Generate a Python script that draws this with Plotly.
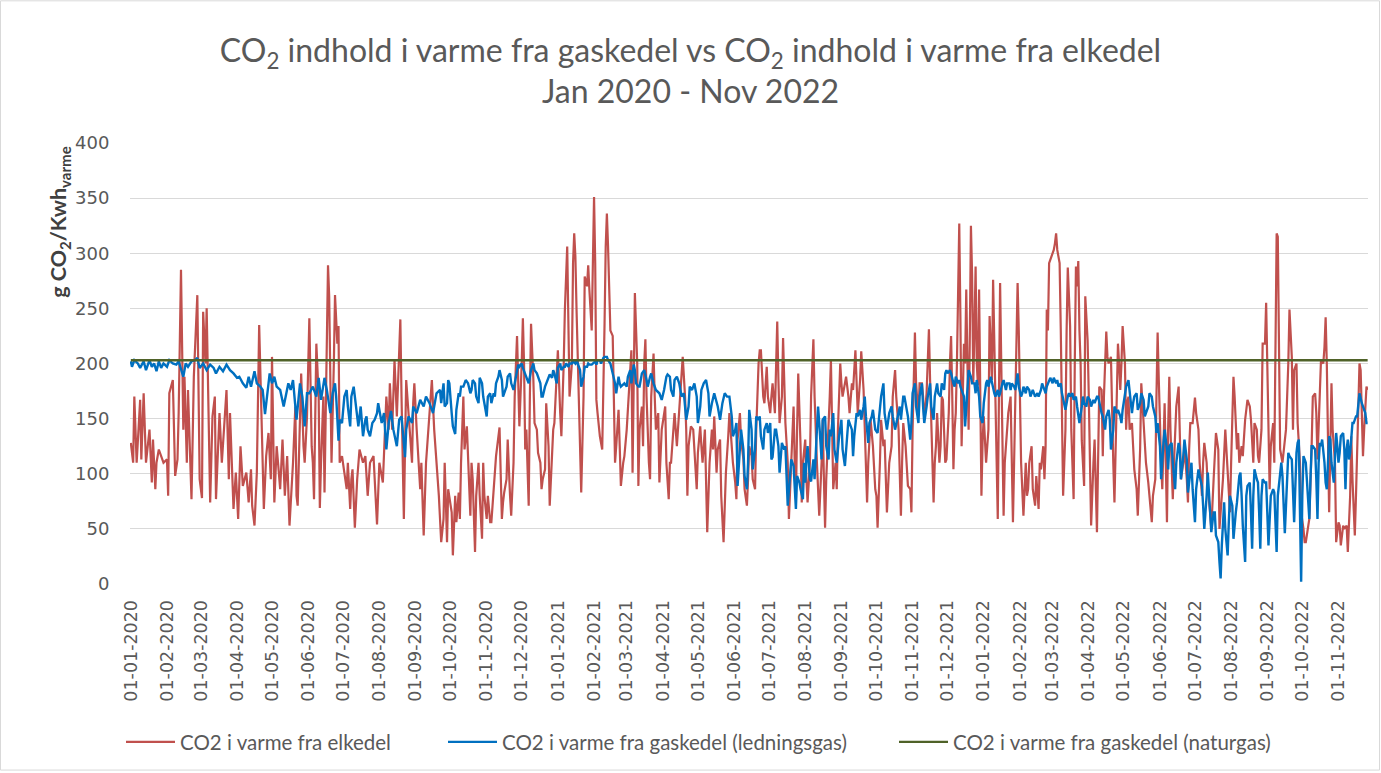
import pandas as pd
import plotly.graph_objects as go

START = pd.Timestamp("2020-01-01")

# (day offset from 01-01-2020, g CO2/kWh)
red_points = [
(0,128),(2,110),(3,170),(5,110),(8,167),(9,113),(11,173),(13,110),(16,140),(18,92),(19,131),(21,86),(22,110),(24,122),(28,110),(31,113),(32,80),(33,173),(36,185),(38,98),(40,113),(41,155),(43,285),(45,140),(46,188),(48,110),(49,176),(51,110),(52,77),(54,188),(57,262),(59,95),(61,78),(62,247),(64,200),(65,250),(67,140),(68,74),(70,152),(72,170),(73,77),(76,155),(78,110),(80,146),(82,176),(84,95),(85,155),(88,68),(90,101),(92,59),(94,125),(96,89),(99,101),(101,74),(103,104),(104,71),(106,53),(108,101),(110,235),(112,152),(114,68),(116,116),(118,137),(120,95),(121,206),(123,74),(125,125),
(128,86),(130,131),(132,80),(134,116),(136,53),(139,110),(141,161),(142,80),(143,71),(145,140),(146,191),(148,125),(149,110),(151,152),(153,241),(155,125),(156,110),(157,77),(159,218),(161,170),(162,69),(163,110),(165,170),(166,83),(168,200),(169,289),(170,261),(171,197),(172,110),(174,200),(175,262),(177,218),(178,234),(179,110),(181,116),(183,101),(185,86),(186,110),(188,68),(189,95),(190,104),(192,51),(194,95),(196,122),(199,110),(201,116),(202,92),(203,80),(205,110),(208,116),(211,54),(212,95),(213,110),(216,92),(219,170),(221,140),(222,182),(224,140),(226,203),(228,152),(231,240),(232,170),(234,59),(236,185),(239,140),(241,110),(242,164),(243,182),(245,140),(248,86),(249,110),(251,44),(253,110),(256,155),(258,185),(260,140),(262,110),(264,80),(266,38),
(268,59),(269,110),(271,38),(272,86),(273,80),(275,65),(276,26),(278,80),(279,56),(281,83),(282,59),(283,110),(285,170),(286,122),(288,143),(289,110),(291,62),(292,110),(293,95),(295,29),(296,80),(298,110),(299,80),(301,41),(302,110),(303,80),(305,59),(306,80),(308,56),(309,56),(311,89),(312,104),(313,116),(316,142),(317,110),(318,59),(319,74),(320,83),(322,95),(323,131),(325,80),(326,62),(328,110),(329,170),(331,225),(332,185),(333,143),(335,200),(336,241),(337,200),(338,122),(339,140),(341,71),(342,170),(343,236),(345,185),(346,146),(348,140),(349,119),(351,110),(352,86),(353,95),(355,104),(356,164),(358,125),(359,71),(361,110),(362,140),(363,146),(365,200),(366,212),(368,155),(369,134),(371,200),(372,249),(374,306),(375,230),(376,170),(378,200),(379,291),(380,318),(381,297),(382,249),(383,200),(384,155),(386,83),(388,170),(389,279),(391,270),(392,289),(393,267),(395,230),(396,291),(397,351),(398,291),(399,167),(400,155),
(402,134),(404,122),(405,170),(406,236),(407,306),(408,336),(409,306),(410,276),(411,230),(413,225),(414,170),(415,110),(416,125),(418,158),(419,125),(420,89),(422,110),(423,116),(425,140),(426,158),(428,200),(429,212),(430,101),(431,200),(432,264),(434,200),(435,89),(436,140),(438,161),(439,125),(440,200),(441,222),(442,170),(444,110),(445,95),(446,170),(448,209),(449,170),(450,140),(452,155),(453,92),(455,140),(456,146),(458,161),(459,110),(461,77),(462,110),(463,110),(465,140),(466,155),(468,125),(469,140),(470,161),(472,182),(473,206),(475,170),(476,140),(477,80),(478,125),(480,143),(482,140),(483,122),(485,86),(486,119),(488,143),(489,125),(490,110),(492,140),(493,95),(494,47),(496,110),(498,140),(499,122),(500,152),(502,101),(503,122),(505,131),(506,80),(508,38),(509,80),(510,101),(512,134),(513,155),(515,125),(516,110),(518,92),(519,77),(520,131),(522,155),(523,131),(525,113),(526,86),(528,71),(529,95),(530,125),(532,116),(533,95),(535,86),(536,140),(538,200),(539,212),(540,212),(542,170),(543,164),
(545,197),(546,170),(548,155),(549,170),(550,182),(552,155),(553,200),(554,238),(555,186),(556,146),(558,170),(559,223),(560,185),(561,146),(563,110),(564,59),(566,110),(568,161),(569,110),(570,77),(571,140),(572,191),(574,125),(575,74),(576,110),(578,131),(579,95),(580,74),(582,110),(583,170),(585,222),(586,170),(588,110),(589,80),(590,62),(592,110),(593,149),(594,95),(595,51),(596,95),(598,140),(599,170),(600,203),(601,140),(602,86),(604,110),(605,86),(606,140),(608,200),(609,182),(610,170),(612,182),(613,188),(615,170),(616,155),(618,182),(619,176),(621,212),(622,185),(623,155),(625,185),(626,211),(628,176),(629,140),(631,74),(632,110),(634,149),(636,125),(638,86),(639,80),(640,51),(642,110),(643,149),(645,125),(646,131),(648,65),(650,110),(652,125),(653,170),(655,194),(656,170),(658,140),(660,62),(661,110),(662,146),(664,125),(666,89),(668,86),(669,65),(670,140),(672,228),(673,182),(675,152),(676,182),(678,182),(679,170),(680,149),
(682,173),(683,200),(684,231),(685,185),(686,140),(687,110),(688,74),(689,110),(690,125),(691,155),(693,110),(694,125),(695,170),(696,167),(697,140),(698,110),(699,113),(701,155),(702,200),(703,225),(704,170),(705,104),(706,140),(707,155),(708,200),(709,261),(710,327),(711,240),(712,125),(713,170),(714,218),(715,200),(716,267),(717,200),(718,140),(719,220),(720,325),(721,280),(722,182),(723,230),(724,288),(725,200),(726,180),(727,267),(728,180),(729,80),(730,130),(731,152),(733,110),(735,140),(736,243),(738,185),(739,276),(741,170),(743,59),(744,170),(745,273),(746,200),(747,140),(748,62),(749,110),(751,140),(752,155),(754,170),(755,110),(756,56),(757,110),(758,170),(759,215),(760,273),(761,230),(762,176),(763,110),(765,62),(766,86),(767,110),(768,80),(769,86),(770,110),(772,125),(773,86),(775,71),(776,98),(777,80),(778,68),(779,110),(780,104),(782,125),(783,95),(784,125),(785,249),(786,230),(787,291),(788,294),(789,297),(791,303),(792,309),(793,318),(794,303),(796,291),(797,230),(798,158),(799,80),(800,110),(801,140),(802,230),(803,287),(804,261),(805,234),(806,140),(807,110),(808,77),(809,200),(810,288),(811,270),(812,293),
(813,230),(814,200),(815,130),(817,89),(818,261),(820,221),(821,170),(822,110),(823,53),(825,110),(826,131),(828,47),(829,110),(830,179),(832,176),(833,116),(834,170),(835,200),(836,229),(837,206),(838,200),(840,206),(841,146),(842,110),(843,74),(845,170),(846,218),(847,200),(848,176),(849,200),(850,234),(852,200),(853,140),(854,164),(855,170),(856,140),(858,146),(859,125),(860,104),(862,86),(863,62),(865,122),(866,182),(868,146),(869,128),(870,110),(872,92),(873,80),(875,56),(876,80),(878,95),(879,170),(880,228),(881,185),(882,140),(883,110),(884,86),(885,125),(886,164),(887,110),(888,56),(889,140),(890,188),(891,140),(893,77),(894,110),(895,143),(896,161),(898,179),(899,140),(900,95),(902,110),(903,125),(905,95),(906,74),(907,122),(908,146),(910,146),(911,161),(912,169),(913,155),(915,140),(916,110),(918,80),(919,110),(920,128),(922,110),(923,86),(925,65),(926,50),(928,95),(929,116),(930,137),(932,122),(933,50),(935,80),(936,95),(938,140),(939,122),(940,95),(942,65),(943,110),(945,188),(946,170),(948,122),(949,137),(950,110),
(952,125),(953,116),(955,149),(956,158),(957,167),(959,161),(960,149),(962,110),(963,146),(965,140),(966,116),(967,110),(969,140),(970,218),(972,218),(973,255),(974,200),(975,140),(976,86),(977,125),(979,146),(980,110),(981,261),(982,318),(983,315),(984,230),(985,122),(987,110),(988,122),(990,140),(991,170),(992,200),(993,249),(995,206),(996,140),(997,194),(999,200),(1000,146),(1002,110),(1003,65),(1005,50),(1006,38),(1007,38),(1009,50),(1010,59),(1012,125),(1013,170),(1015,173),(1016,155),(1017,113),(1019,170),(1020,203),(1022,200),(1023,215),(1024,242),(1025,200),(1027,65),(1028,125),(1029,182),(1030,140),(1032,110),(1033,38),(1035,56),(1036,53),(1037,35),(1039,53),(1040,50),(1042,53),(1043,29),(1045,80),(1046,134),(1047,95),(1049,44),(1050,80),(1052,170),(1053,200),(1054,194),(1055,155),(1056,116),(1057,140),(1059,179),(1060,176),
]

blue_points = [
(0,202),(1,197),(3,203),(6,200),(8,196),(11,202),(13,194),(16,203),(18,197),(20,200),(22,193),(24,202),(26,196),(28,200),(31,197),(33,203),(36,200),(39,199),(41,202),(45,188),(47,200),(49,197),(52,202),(55,203),(57,205),(59,196),(62,200),(65,194),(68,199),(71,196),(73,191),(76,197),(79,193),(82,199),(85,194),(88,191),(91,187),(93,188),(96,182),(99,178),(101,188),(103,179),(106,193),(108,182),(111,179),(113,176),(115,154),(117,176),(119,191),(121,182),(123,188),(125,179),
(128,176),(131,161),(133,173),(135,182),(137,176),(139,185),(142,149),(144,173),(145,182),(147,170),(149,143),(151,173),(153,173),(156,179),(159,170),(161,187),(163,167),(166,187),(168,176),(171,155),(173,173),(175,182),(176,170),(178,130),(179,149),(181,146),(183,170),(185,176),(186,161),(188,143),(189,170),(191,179),(193,161),(195,143),(197,161),(199,134),(201,149),(202,152),(203,140),(205,134),(207,146),(209,149),(211,155),(212,164),(215,146),(217,155),(219,122),(221,146),(223,157),(225,140),(228,125),(230,149),(232,152),(235,115),(236,140),(238,152),(241,146),(242,161),(245,155),(248,167),(251,161),(253,170),(256,164),(259,155),(262,173),
(265,176),(266,164),(268,182),(269,161),(271,164),(272,185),(273,182),(275,155),(276,143),(278,136),(279,158),(281,173),(282,170),(283,179),(285,179),(287,185),(289,182),(291,173),(292,176),(293,185),(295,182),(296,170),(298,164),(299,187),(301,182),(302,170),(303,164),(305,152),(306,170),(308,173),(309,164),(311,173),(312,170),(313,182),(315,188),(316,194),(318,185),(319,170),(321,176),(322,179),(323,188),(325,191),(326,182),(328,176),(329,182),(331,194),(332,199),(333,197),(335,200),(336,196),(338,191),(339,188),(341,182),(342,188),(343,194),(345,200),(346,194),(348,191),(349,188),(351,182),(352,170),(353,170),(355,179),(356,182),(358,188),(359,190),(361,187),(362,194),(363,191),(365,182),(366,196),(368,200),(369,194),(371,197),(372,197),(373,200),(375,197),(376,200),(378,200),(379,202),(381,200),(382,203),(383,200),(385,194),(386,179),(388,188),(389,197),(391,197),(392,200),(393,199),(395,199),(396,200),(398,202),(399,199),(400,203),(402,203),(403,200),(405,205),(406,206),
(408,206),(409,203),(411,200),(413,191),(415,182),(416,173),(418,188),(419,182),(420,179),(423,182),(425,179),(426,188),(428,194),(429,182),(431,199),(432,194),(433,182),(435,179),(436,179),(438,191),(440,194),(442,185),(443,179),(445,188),(446,191),(448,182),(449,179),(450,176),(453,173),(455,167),(457,176),(459,188),(460,190),(462,188),(463,176),(465,170),(466,185),(468,188),(470,182),(472,170),(474,173),(476,149),(478,161),(479,179),(481,176),(483,182),(485,170),(486,146),(488,161),(489,176),(491,182),(493,185),(495,173),(496,152),(498,164),(500,173),(503,161),(505,149),(507,164),(509,173),(511,170),(513,170),(515,152),(516,134),(518,140),(519,146),(520,89),(522,125),(523,140),(525,122),(526,98),(528,86),(529,110),(530,158),(532,140),(533,104),(535,122),(536,152),(538,149),(539,152),(540,134),(542,122),(543,140),
(545,146),(546,137),(548,146),(549,113),(550,115),(552,140),(553,140),(555,125),(556,101),(558,128),(560,122),(561,125),(563,71),(565,95),(566,113),(568,107),(570,68),(571,98),(573,92),(574,86),(576,77),(577,110),(578,92),(579,113),(580,125),(582,95),(583,93),(585,113),(586,95),(588,140),(589,161),(590,146),(592,113),(593,149),(595,152),(596,125),(598,113),(599,140),(600,134),(602,155),(603,122),(605,110),(607,134),(609,149),(610,122),(612,107),(613,122),(615,149),(616,146),(618,140),(619,116),(620,134),(622,155),(623,152),(625,158),(626,149),(628,161),(629,170),(630,152),(632,128),(633,146),(635,152),(636,158),(638,140),(640,137),(642,161),(643,170),(645,182),(646,155),(648,140),(649,149),(650,155),(652,161),(653,152),(655,140),(656,146),(658,155),(659,161),(660,149),(662,170),(663,170),(665,158),(666,152),(668,131),(669,146),(670,173),(672,182),(673,161),(675,146),(676,170),(678,182),(679,161),(680,146),
(682,161),(683,170),(685,182),(686,161),(688,149),(689,170),(691,182),(692,173),(694,170),(695,182),(697,176),(698,191),(699,194),(700,191),(702,194),(703,191),(705,182),(706,179),(707,188),(709,182),(710,185),(711,179),(713,173),(714,170),(715,143),(717,176),(718,194),(720,188),(721,182),(723,182),(724,173),(725,185),(727,170),(728,152),(730,146),(731,164),(733,182),(734,185),(735,179),(737,188),(738,182),(740,173),(741,170),(743,176),(744,170),(745,173),(747,182),(748,185),(750,176),(751,182),(753,182),(754,176),(755,182),(757,179),(758,176),(760,191),(761,179),(763,170),(764,173),(765,179),(767,173),(768,179),(770,176),(771,170),(773,176),(774,173),(775,170),(777,173),(778,170),(780,176),(781,182),(783,176),(784,173),(785,179),(787,185),(788,187),(790,182),(791,187),(793,182),(794,185),(795,179),(797,182),(798,173),(800,161),(801,158),(803,170),(804,173),(805,170),(807,173),(808,167),(810,170),(811,161),
(813,146),(815,161),(816,170),(817,164),(819,161),(820,170),(822,167),(823,161),(825,167),(826,164),(828,170),(829,170),(830,164),(832,155),(833,152),(835,140),(836,152),(838,158),(839,149),(840,122),(842,140),(843,161),(845,155),(846,158),(848,152),(849,146),(850,158),(852,170),(853,179),(855,185),(856,176),(858,155),(859,164),(860,170),(862,173),(863,158),(865,164),(866,173),(868,167),(869,152),(870,155),(872,161),(873,173),(875,170),(876,161),(878,152),(879,137),(880,146),(882,125),(883,95),(885,128),(886,140),(888,122),(889,104),(890,125),(892,128),(893,110),(895,86),(896,110),(898,128),(899,122),(900,95),(902,116),(903,131),(905,113),(906,83),(908,101),(909,110),(910,86),(912,56),(913,86),(915,104),(916,98),(918,89),(919,71),(920,50),(922,80),(923,101),(925,65),(926,47),(928,65),(929,65),(930,44),(932,38),(933,20),(934,5),(935,35),(937,74),(938,50),(940,26),(941,56),(942,80),(944,71),(945,41),(947,65),(948,74),(950,98),(951,101),
(952,80),(953,53),(955,20),(956,80),(957,89),(959,92),(960,65),(961,32),(962,80),(963,104),(965,95),(966,92),(967,65),(968,32),(969,80),(970,95),(972,92),(973,92),(974,65),(975,35),(977,80),(978,83),(979,86),(980,83),(981,56),(982,29),(983,80),(985,104),(986,110),(987,98),(988,74),(989,46),(991,95),(992,119),(993,116),(995,113),(997,56),(998,95),(999,119),(1000,128),(1001,131),(1002,65),(1003,2),(1004,80),(1005,116),(1007,110),(1008,92),(1009,74),(1010,59),(1011,95),(1012,125),(1013,125),(1015,122),(1016,95),(1017,59),(1018,110),(1019,128),(1020,125),(1021,131),(1023,110),(1024,92),(1025,86),(1026,110),(1027,134),(1028,131),(1029,110),(1031,92),(1032,110),(1033,137),(1034,125),(1035,110),(1036,119),(1037,134),(1039,137),(1040,122),(1041,86),(1042,122),(1043,131),(1044,113),(1045,119),(1047,146),(1048,146),(1049,149),(1050,152),(1051,152),(1052,161),(1053,173),(1055,164),(1056,161),(1057,158),(1058,155),(1059,146),(1060,146),
]

naturgas_days = [0, 1060]
naturgas_values = [203, 203]

series_names = [
    "CO2 i varme fra elkedel",
    "CO2 i varme fra gaskedel (ledningsgas)",
    "CO2 i varme fra gaskedel (naturgas)",
]
y_ticks = [0, 50, 100, 150, 200, 250, 300, 350, 400]
title_text = ("CO<sub>2</sub> indhold i varme fra gaskedel vs CO<sub>2</sub> indhold i varme fra elkedel"
              "<br>Jan 2020 - Nov 2022")
y_title_text = "<b>g CO<sub>2</sub>/Kwh<sub>varme</sub></b>"


def to_dates(days):
    return START + pd.to_timedelta(list(days), unit="D")


red_days, red_vals = zip(*red_points)
blue_days, blue_vals = zip(*blue_points)

GRAY = "#595959"
FONT = "Lato, 'Open Sans', sans-serif"
TICKFONT = "'DejaVu Sans', Verdana, sans-serif"

# plot area in pixels: x 130..1368, y 143..585
PL, PW, PT, PH = 130, 1238, 143, 442


def px(xp):
    return (xp - PL) / PW


def py(yp):
    return (PT + PH - yp) / PH


fig = go.Figure()
fig.add_trace(go.Scatter(x=to_dates(red_days), y=list(red_vals), mode="lines",
                         name=series_names[0], line=dict(color="#C0504D", width=2.2),
                         legend="legend"))
fig.add_trace(go.Scatter(x=to_dates(blue_days), y=list(blue_vals), mode="lines",
                         name=series_names[1], line=dict(color="#0070C0", width=2.4),
                         legend="legend2"))
fig.add_trace(go.Scatter(x=to_dates(naturgas_days), y=naturgas_values, mode="lines",
                         name=series_names[2], line=dict(color="#4F6228", width=2.4),
                         legend="legend3"))

month_ticks = pd.date_range("2020-01-01", "2022-11-01", freq="MS")

legend_common = dict(orientation="h", yanchor="middle", y=py(742), xanchor="left",
                     font=dict(family=FONT, size=20.5, color=GRAY),
                     bgcolor="rgba(0,0,0,0)", itemwidth=49)

fig.update_layout(
    width=1381, height=773,
    margin=dict(l=PL, r=1381 - PL - PW, t=PT, b=773 - PT - PH),
    paper_bgcolor="white", plot_bgcolor="white",
    title=dict(text=title_text, x=0.5, xanchor="center", y=0.92, yanchor="top",
               font=dict(family=FONT, size=32, color=GRAY)),
    xaxis=dict(type="date",
               range=[START - pd.Timedelta(days=0.7), START + pd.Timedelta(days=1060.3)],
               tickvals=month_ticks, tickformat="%d-%m-%Y", tickangle=-90,
               tickfont=dict(family=TICKFONT, size=17.5, color=GRAY),
               showgrid=False, zeroline=False, showline=False, ticks="outside", ticklen=8,
               tickcolor="rgba(0,0,0,0)"),
    yaxis=dict(range=[0, 400], tickvals=y_ticks,
               tickfont=dict(family=TICKFONT, size=18, color=GRAY),
               showgrid=True, gridcolor="#D9D9D9", gridwidth=1, zeroline=False,
               ticks="outside", ticklen=16, tickcolor="rgba(0,0,0,0)"),
    legend=dict(legend_common, x=px(121)),
    legend2=dict(legend_common, x=px(443)),
    legend3=dict(legend_common, x=px(894)),
    showlegend=True,
    annotations=[dict(text=y_title_text, textangle=-90, xref="paper", yref="paper",
                      x=px(60), y=py(222), xanchor="center", yanchor="middle",
                      showarrow=False, font=dict(family=FONT, size=21.5, color="#404040"))],
    shapes=[dict(type="rect", xref="paper", yref="paper",
                 x0=px(0.5), x1=px(1379.5), y0=py(771.5), y1=py(0.5),
                 line=dict(color="#D9D9D9", width=1), fillcolor="rgba(0,0,0,0)", layer="below")],
)

fig.write_html("out.html", config={"displayModeBar": False},
               post_script="document.body.style.margin='0';document.body.style.overflow='hidden';")
